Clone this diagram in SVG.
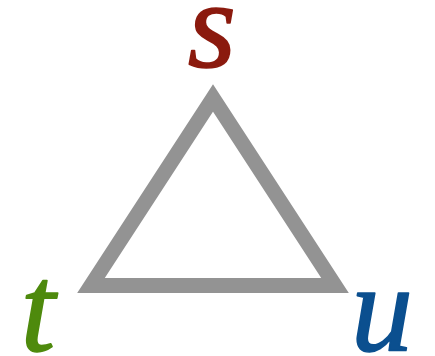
<svg xmlns="http://www.w3.org/2000/svg" width="435" height="356" viewBox="0 0 435 356">
<style>
.lbl{font-family:"Liberation Serif","Times New Roman",serif;font-style:italic;font-size:124px;text-anchor:middle;stroke-width:1.6px;stroke-linejoin:round}
</style>
<rect width="435" height="356" fill="#fff"/>
<g id="connectors">
<polygon points="213,98 91,285.5 335,285.5" fill="none" stroke="#939393" stroke-width="15" stroke-linejoin="miter" stroke-miterlimit="10"/>
</g>
<g id="node-s"><text class="lbl" x="212" y="67" fill="#8b1a0e" stroke="#8b1a0e">s</text></g>
<g id="node-t"><text class="lbl" x="38" y="351" fill="#4e8a0d" stroke="#4e8a0d">t</text></g>
<g id="node-u"><text class="lbl" x="382" y="351" fill="#0b4f8f" stroke="#0b4f8f">u</text></g>
</svg>
